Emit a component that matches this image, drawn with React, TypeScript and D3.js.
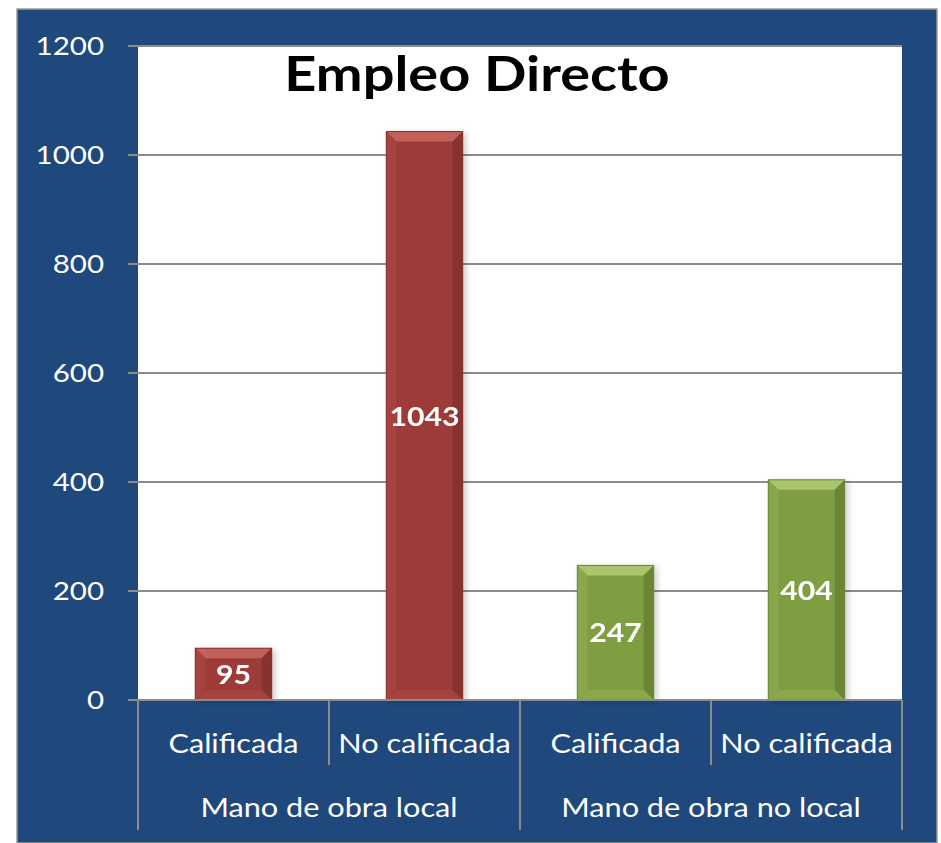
import React from "react";
import * as d3 from "d3";

const groups = ["Mano de obra local", "Mano de obra no local"];
const subCategories = ["Calificada", "No calificada"];
const localValues = [95, 1043];
const noLocalValues = [247, 404];
const yTicks = [0, 200, 400, 600, 800, 1000, 1200];
const title = "Empleo Directo";

const W = 941;
const H = 843;
const FONT = "Lato, 'Open Sans', sans-serif";
const SX = 1.18;

function T(props: any) {
  const { x, y, sx = SX, children, ...rest } = props;
  return (
    <text transform={`translate(${x},${y}) scale(${sx},1)`} x={0} y={0} {...rest}>
      {children}
    </text>
  );
}

export default function App() {
  const plot = { left: 138, right: 902, top: 46, bottom: 700 };
  const bars = [
    ...localValues.map((v, i) => ({ group: 0, sub: subCategories[i], value: v, key: `0-${i}` })),
    ...noLocalValues.map((v, i) => ({ group: 1, sub: subCategories[i], value: v, key: `1-${i}` })),
  ];
  const x = d3
    .scaleBand<string>()
    .domain(bars.map((b) => b.key))
    .range([plot.left, plot.right])
    .paddingInner(0.6)
    .paddingOuter(0.3);
  const xBand = d3
    .scaleBand<string>()
    .domain(bars.map((b) => b.key))
    .range([plot.left, plot.right]);
  const y = d3.scaleLinear().domain([0, 1200]).range([plot.bottom, plot.top]);

  const colors = [
    { base: "#9d3b38", light: "#c4605c", dark: "#86302e", mid: "#a6423f" },
    { base: "#7f9e42", light: "#a9c66c", dark: "#6a8636", mid: "#88a84b" },
  ];

  const groupEdges = [plot.left, (plot.left + plot.right) / 2, plot.right];

  return (
    <svg width={W} height={H} style={{ display: "block", position: "absolute", left: 0, top: 0 }}>
      <defs>
        <filter id="sh" x="-20%" y="-20%" width="150%" height="150%">
          <feGaussianBlur in="SourceAlpha" stdDeviation="3" />
          <feOffset dx="3" dy="2" result="b" />
          <feComponentTransfer>
            <feFuncA type="linear" slope="0.2" />
          </feComponentTransfer>
          <feMerge>
            <feMergeNode />
            <feMergeNode in="SourceGraphic" />
          </feMerge>
        </filter>
      </defs>
      <rect x={0} y={0} width={W} height={H} fill="#ffffff" />
      <rect x={17} y={9} width={920} height={834} fill="#1f497d" stroke="#9a9a9a" strokeWidth={1.5} />
      <rect x={plot.left} y={plot.top} width={plot.right - plot.left} height={plot.bottom - plot.top} fill="#ffffff" />
      {yTicks.map((t) => (
        <g key={t}>
          <line x1={128} x2={plot.right} y1={y(t)} y2={y(t)} stroke="#8c8c8c" strokeWidth={2} />
          <T x={104} y={y(t)} dy="0.35em" textAnchor="end" fill="#ffffff" fontSize={25} fontFamily={FONT}>
            {t}
          </T>
        </g>
      ))}
      <T x={477} y={91} sx={1.19} textAnchor="middle" fontSize={47} fontWeight="bold" fill="#000" fontFamily={FONT}>
        {title}
      </T>
      {bars.map((b) => {
        const c = colors[b.group];
        const x0 = x(b.key)!;
        const w = x.bandwidth();
        const y0 = y(b.value);
        const y1 = y(0);
        const bev = Math.min(10, (y1 - y0) / 3);
        return (
          <g key={b.key} filter="url(#sh)">
            <rect x={x0} y={y0} width={w} height={y1 - y0} fill={c.base} />
            <polygon points={`${x0},${y0} ${x0 + w},${y0} ${x0 + w - bev},${y0 + bev} ${x0 + bev},${y0 + bev}`} fill={c.light} />
            <polygon points={`${x0},${y0} ${x0 + bev},${y0 + bev} ${x0 + bev},${y1 - bev} ${x0},${y1}`} fill={c.mid} />
            <polygon points={`${x0 + w},${y0} ${x0 + w - bev},${y0 + bev} ${x0 + w - bev},${y1 - bev} ${x0 + w},${y1}`} fill={c.dark} />
            <polygon points={`${x0},${y1} ${x0 + bev},${y1 - bev} ${x0 + w - bev},${y1 - bev} ${x0 + w},${y1}`} fill={c.mid} />
            <rect x={x0} y={y0} width={w} height={y1 - y0} fill="none" stroke={c.dark} strokeWidth={1} />
            <T x={x0 + w / 2} y={(y0 + y1) / 2} sx={1.12} dy="0.36em" textAnchor="middle" fill="#ffffff" fontSize={27} fontWeight="bold" fontFamily={FONT}>
              {b.value}
            </T>
          </g>
        );
      })}
      <line x1={128} x2={plot.right} y1={plot.bottom} y2={plot.bottom} stroke="#8c8c8c" strokeWidth={2} />
      {bars.map((b) => {
        const bx = xBand(b.key)!;
        return (
          <T key={"l" + b.key} x={bx + xBand.bandwidth() / 2} y={744} dy="0.35em" textAnchor="middle" fill="#ffffff" fontSize={26} fontFamily={FONT}>
            {b.sub}
          </T>
        );
      })}
      {bars
        .filter((b, i) => i % 2 === 1)
        .map((b) => {
          const bx = xBand(b.key)!;
          return <line key={"s" + b.key} x1={bx} x2={bx} y1={plot.bottom} y2={765} stroke="#8c8c8c" strokeWidth={2} />;
        })}
      {groupEdges.map((gx, i) => (
        <line key={"g" + i} x1={gx} x2={gx} y1={plot.bottom} y2={830} stroke="#8c8c8c" strokeWidth={2} />
      ))}
      {groups.map((g, i) => (
        <T key={g} x={(groupEdges[i] + groupEdges[i + 1]) / 2} y={808} dy="0.35em" textAnchor="middle" fill="#ffffff" fontSize={26} fontFamily={FONT}>
          {g}
        </T>
      ))}
    </svg>
  );
}
